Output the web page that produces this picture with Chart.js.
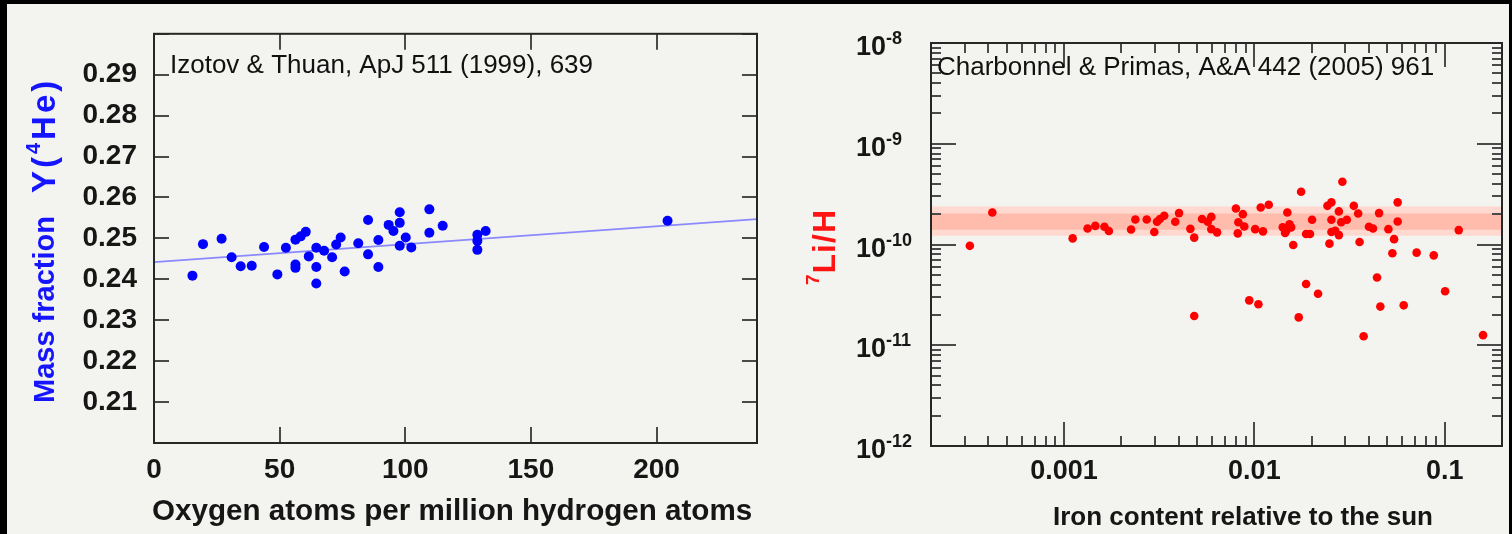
<!DOCTYPE html>
<html>
<head>
<meta charset="utf-8">
<script src="https://cdn.jsdelivr.net/npm/chart.js@4.4.1/dist/chart.umd.min.js"></script>
<style>
  html, body { margin: 0; padding: 0; background: #000; width: 1512px; height: 534px; overflow: hidden; }
  #panel { position: absolute; left: 7px; top: 4px; width: 1502px; height: 530px; background: #f3f3ef; }
  canvas { position: absolute; top: 0; }
  #he { left: 0; }
  #li { left: 780px; }
</style>
</head>
<body>
<div id="panel"></div>
<canvas id="he" width="780" height="534"></canvas>
<canvas id="li" width="732" height="534"></canvas>
<script>
// ---- Helium-4 mass fraction vs oxygen abundance (Izotov & Thuan 1999) ----
const oxygenPpm = [15.3, 19.5, 26.9, 30.9, 34.5, 38.9, 43.8, 49.1, 52.5, 56.3, 56.3, 56.3, 58.4, 60.4, 61.6,
  64.6, 64.6, 64.6, 67.7, 70.9, 72.5, 74.3, 75.9, 81.3, 85.2, 85.2, 89.3, 89.3, 93.4, 95.3,
  97.8, 97.8, 97.8, 100.2, 102.4, 109.6, 109.6, 114.9, 128.7, 128.7, 128.7, 132.0, 204.4];
const heliumY = [0.2409, 0.2486, 0.2499, 0.2454, 0.2432, 0.2433, 0.2479, 0.2412, 0.2477, 0.2497, 0.2436, 0.2428, 0.2505, 0.2516, 0.2456,
  0.2477, 0.2430, 0.2390, 0.2470, 0.2454, 0.2485, 0.2502, 0.2419, 0.2488, 0.2545, 0.2461, 0.2496, 0.2430, 0.2533, 0.2518,
  0.2564, 0.2538, 0.2482, 0.2502, 0.2478, 0.2571, 0.2514, 0.2531, 0.2509, 0.2494, 0.2472, 0.2518, 0.2543];
const fitOxygen = [0, 240];
const fitHelium = [0.2442, 0.2547];
const heXTicks = [0, 50, 100, 150, 200];
const heYTicks = [0.20, 0.21, 0.22, 0.23, 0.24, 0.25, 0.26, 0.27, 0.28, 0.29, 0.30];
const heYTickLabels = ['', '0.21', '0.22', '0.23', '0.24', '0.25', '0.26', '0.27', '0.28', '0.29', ''];

// ---- Lithium-7 abundance vs metallicity (Charbonnel & Primas 2005) ----
const ironRel = [3.2e-4, 4.2e-4, 1.11e-3, 1.33e-3, 1.46e-3, 1.63e-3, 1.72e-3, 2.25e-3, 2.37e-3, 2.72e-3,
  2.98e-3, 3.08e-3, 3.19e-3, 3.36e-3, 3.84e-3, 4.02e-3, 4.61e-3, 4.83e-3, 4.83e-3, 5.31e-3,
  5.69e-3, 5.94e-3, 5.94e-3, 6.37e-3, 8.0e-3, 8.7e-3, 8.24e-3, 8.85e-3, 8.18e-3, 1.01e-2,
  1.11e-2, 1.08e-2, 1.19e-2, 9.4e-3, 1.05e-2, 1.49e-2, 1.41e-2, 1.47e-2, 1.53e-2, 1.56e-2,
  1.45e-2, 1.60e-2, 1.76e-2, 1.71e-2, 1.87e-2, 2.16e-2, 1.87e-2, 1.96e-2, 2.01e-2, 2.42e-2,
  2.54e-2, 2.90e-2, 2.54e-2, 2.54e-2, 2.66e-2, 2.78e-2, 2.48e-2, 2.78e-2, 2.86e-2, 3.06e-2,
  3.33e-2, 3.51e-2, 3.57e-2, 3.75e-2, 4.0e-2, 4.2e-2, 4.52e-2, 4.41e-2, 4.59e-2, 5.06e-2,
  5.42e-2, 5.31e-2, 5.66e-2, 5.66e-2, 6.09e-2, 7.12e-2, 8.76e-2, 0.1005, 0.1185, 0.159];
const lithiumH = [0.97e-10, 2.08e-10, 1.15e-10, 1.44e-10, 1.53e-10, 1.50e-10, 1.36e-10, 1.41e-10, 1.77e-10, 1.77e-10,
  1.33e-10, 1.68e-10, 1.79e-10, 1.93e-10, 1.68e-10, 2.05e-10, 1.43e-10, 1.17e-10, 1.95e-11, 1.79e-10,
  1.68e-10, 1.88e-10, 1.42e-10, 1.32e-10, 2.28e-10, 2.0e-10, 1.66e-10, 1.51e-10, 1.29e-10, 1.42e-10,
  1.35e-10, 2.33e-10, 2.48e-10, 2.79e-11, 2.55e-11, 2.08e-10, 1.48e-10, 1.37e-10, 1.59e-10, 1.48e-10,
  1.30e-10, 0.99e-10, 3.34e-10, 1.89e-11, 4.06e-11, 3.25e-11, 1.27e-10, 1.27e-10, 1.76e-10, 2.42e-10,
  2.62e-10, 4.2e-10, 1.76e-10, 1.33e-10, 1.37e-10, 1.24e-10, 1.02e-10, 2.13e-10, 1.66e-10, 1.76e-10,
  2.42e-10, 2.03e-10, 1.06e-10, 1.23e-11, 1.50e-10, 1.44e-10, 2.05e-10, 4.7e-11, 2.42e-11, 1.42e-10,
  1.13e-10, 0.82e-10, 2.62e-10, 1.69e-10, 2.49e-11, 0.83e-10, 0.78e-10, 3.43e-11, 1.39e-10, 1.26e-11];
const ironRange = [2e-4, 0.2];
const lithiumBandOuter = [1.22e-10, 2.39e-10];
const lithiumBandInner = [1.40e-10, 2.03e-10];
const liXTicks = [2e-4, 3e-4, 4e-4, 5e-4, 6e-4, 7e-4, 8e-4, 9e-4, 1e-3, 2e-3, 3e-3, 4e-3, 5e-3, 6e-3, 7e-3, 8e-3, 9e-3,
  1e-2, 2e-2, 3e-2, 4e-2, 5e-2, 6e-2, 7e-2, 8e-2, 9e-2, 0.1, 0.2];
const liXTickLabels = ['', '', '', '', '', '', '', '', '0.001', '', '', '', '', '', '', '', '',
  '0.01', '', '', '', '', '', '', '', '', '0.1', ''];
const liYDecades = [1e-12, 1e-11, 1e-10, 1e-9, 1e-8];
const liYExponents = ['-12', '-11', '-10', '-9', '-8'];

const FONT = '"Liberation Sans", Arial, Helvetica, sans-serif';
Chart.defaults.font.family = FONT;
Chart.defaults.color = '#161616';

const isDecade = v => Math.abs(Math.log10(v) - Math.round(Math.log10(v))) < 1e-6;

// Frame round the plot area, with tick marks pointing inwards on all four sides
function frameTicks(cfg) {
  return {
    id: 'frameTicks',
    afterDatasetsDraw(chart) {
      const { ctx, chartArea: a, scales: { x, y } } = chart;
      ctx.save();
      ctx.lineWidth = 2;
      ctx.strokeStyle = '#4a4a4a';
      const seg = (x1, y1, x2, y2) => { ctx.beginPath(); ctx.moveTo(x1, y1); ctx.lineTo(x2, y2); ctx.stroke(); };
      x.ticks.forEach(t => {
        const px = Math.round(x.getPixelForValue(t.value));
        const len = cfg.xMajor(t.value) ? cfg.xLong : cfg.xShort;
        seg(px, a.bottom, px, a.bottom - len);
        seg(px, a.top, px, a.top + len);
      });
      y.ticks.forEach(t => {
        const py = Math.round(y.getPixelForValue(t.value));
        const len = cfg.yMajor(t.value) ? cfg.yLong : cfg.yShort;
        seg(a.left, py, a.left + len, py);
        seg(a.right, py, a.right - len, py);
      });
      ctx.strokeStyle = '#262626';
      ctx.strokeRect(a.left, a.top, a.right - a.left, a.bottom - a.top);
      ctx.restore();
    }
  };
}

// Draws a run of text pieces along one baseline, optionally rotated
function drawRun(ctx, x, y, angle, parts, color) {
  ctx.save();
  ctx.translate(x, y);
  ctx.rotate(angle);
  ctx.fillStyle = color;
  ctx.textBaseline = 'alphabetic';
  ctx.textAlign = 'left';
  let cx = 0;
  parts.forEach(p => {
    ctx.font = `${p.weight || 'bold'} ${p.size}px ${FONT}`;
    ctx.letterSpacing = (p.spacing || 0) + 'px';
    ctx.fillText(p.text, cx, -(p.rise || 0));
    cx += ctx.measureText(p.text).width + (p.gap || 0);
  });
  ctx.restore();
}

const heText = {
  id: 'heText',
  afterDraw(chart) {
    const ctx = chart.ctx;
    drawRun(ctx, 170, 73, 0, [{ text: 'Izotov & Thuan, ApJ 511 (1999), 639', size: 26, weight: 'normal' }], '#111');
    drawRun(ctx, 152, 520, 0, [{ text: 'Oxygen atoms per million hydrogen atoms', size: 29.6 }], '#161616');
    drawRun(ctx, 54, 403, -Math.PI / 2, [{ text: 'Mass fraction', size: 29 }], '#1414ff');
    drawRun(ctx, 55, 193, -Math.PI / 2, [
      { text: 'Y(', size: 33, spacing: 3 },
      { text: '4', size: 20, rise: 15, spacing: 3 },
      { text: 'He)', size: 33, spacing: 3 }
    ], '#1414ff');
  }
};

const liText = {
  id: 'liText',
  afterDraw(chart) {
    const ctx = chart.ctx;
    const y = chart.scales.y;
    drawRun(ctx, 157, 75, 0, [{ text: 'Charbonnel & Primas, A&A 442 (2005) 961', size: 26, weight: 'normal' }], '#111');
    drawRun(ctx, 273, 525, 0, [{ text: 'Iron content relative to the sun', size: 26 }], '#161616');
    drawRun(ctx, 55, 285, -Math.PI / 2, [
      { text: '7', size: 19, rise: 16, spacing: 1 },
      { text: 'Li/H', size: 32, spacing: 1 }
    ], '#ff1414');
    // decade labels of the lithium axis, written as powers of ten
    liYDecades.forEach((v, i) => {
      const py = y.getPixelForValue(v);
      drawRun(ctx, 76, py + 12, 0, [
        { text: '10', size: 27 },
        { text: liYExponents[i], size: 18, rise: 11 }
      ], '#161616');
    });
  }
};

new Chart(document.getElementById('he'), {
  type: 'scatter',
  data: {
    datasets: [
      {
        data: oxygenPpm.map((o, i) => ({ x: o, y: heliumY[i] })),
        backgroundColor: '#0000ff', borderWidth: 0, pointRadius: 5, pointHoverRadius: 5
      },
      {
        data: fitOxygen.map((o, i) => ({ x: o, y: fitHelium[i] })),
        showLine: true, borderColor: '#8a8aff', borderWidth: 1.6, pointRadius: 0
      }
    ]
  },
  options: {
    responsive: false, animation: false, events: [],
    layout: { padding: { top: 29, right: 23, left: 0, bottom: 0 } },
    plugins: { legend: { display: false }, tooltip: { enabled: false } },
    scales: {
      x: {
        type: 'linear', min: 0, max: 240,
        afterBuildTicks: s => { s.ticks = heXTicks.map(v => ({ value: v })); },
        afterFit: s => { s.height = 91; },
        grid: { display: false, drawTicks: false }, border: { display: false },
        ticks: { font: { size: 28, weight: 'bold' }, padding: 10, maxRotation: 0, autoSkip: false }
      },
      y: {
        type: 'linear', min: 0.2, max: 0.3,
        afterBuildTicks: s => { s.ticks = heYTicks.map(v => ({ value: v })); },
        afterFit: s => { s.width = 154; },
        grid: { display: false, drawTicks: false }, border: { display: false },
        ticks: { font: { size: 28, weight: 'bold' }, padding: 17, autoSkip: false,
          callback: (v, i) => heYTickLabels[i] }
      }
    }
  },
  plugins: [frameTicks({ xMajor: () => true, yMajor: () => true, xLong: 16, xShort: 16, yLong: 15, yShort: 15 }), heText]
});

new Chart(document.getElementById('li'), {
  type: 'scatter',
  data: {
    datasets: [
      {
        data: ironRel.map((f, i) => ({ x: f, y: lithiumH[i] })),
        backgroundColor: '#ff0000', borderWidth: 0, pointRadius: 4.3, pointHoverRadius: 4.3
      },
      { data: ironRange.map(f => ({ x: f, y: lithiumBandInner[0] })), showLine: true, borderWidth: 0, pointRadius: 0 },
      { data: ironRange.map(f => ({ x: f, y: lithiumBandInner[1] })), showLine: true, borderWidth: 0, pointRadius: 0,
        fill: '-1', backgroundColor: '#ffbcad' },
      { data: ironRange.map(f => ({ x: f, y: lithiumBandOuter[0] })), showLine: true, borderWidth: 0, pointRadius: 0 },
      { data: ironRange.map(f => ({ x: f, y: lithiumBandOuter[1] })), showLine: true, borderWidth: 0, pointRadius: 0,
        fill: '-1', backgroundColor: '#ffd8cf' }
    ]
  },
  options: {
    responsive: false, animation: false, events: [],
    layout: { padding: { top: 43, right: 10, left: 0, bottom: 0 } },
    plugins: { legend: { display: false }, tooltip: { enabled: false }, filler: { propagate: false } },
    scales: {
      x: {
        type: 'logarithmic', min: ironRange[0], max: ironRange[1],
        afterBuildTicks: s => { s.ticks = liXTicks.map(v => ({ value: v })); },
        afterFit: s => { s.height = 88; },
        grid: { display: false, drawTicks: false }, border: { display: false },
        ticks: { font: { size: 27, weight: 'bold' }, padding: 9, maxRotation: 0, autoSkip: false,
          callback: (v, i) => liXTickLabels[i] }
      },
      y: {
        type: 'logarithmic', min: 1e-12, max: 1e-8,
        afterBuildTicks: s => {
          const t = [];
          liYDecades.forEach(d => {
            for (let m = 1; m <= 9; m++) { if (d * m <= 1e-8 * 1.0001) t.push({ value: d * m }); }
          });
          s.ticks = t;
        },
        afterFit: s => { s.width = 151; },
        grid: { display: false, drawTicks: false }, border: { display: false },
        ticks: { display: false }
      }
    }
  },
  plugins: [frameTicks({ xMajor: isDecade, yMajor: isDecade, xLong: 24, xShort: 10, yLong: 25, yShort: 10 }), liText]
});
</script>
</body>
</html>
